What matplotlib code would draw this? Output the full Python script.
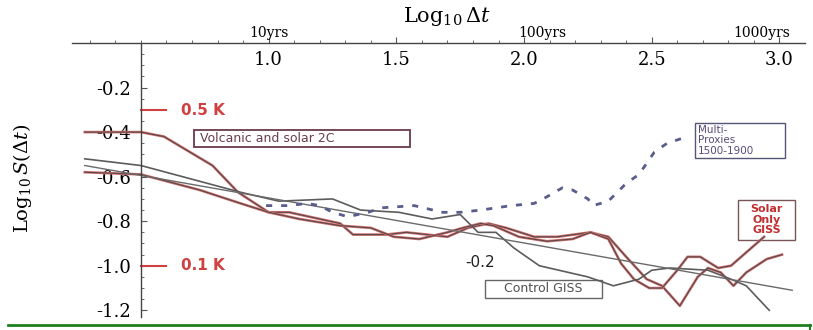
import numpy as np
import matplotlib.pyplot as plt
from matplotlib.patches import Rectangle
from matplotlib.lines import Line2D

plt.rcParams['axes.unicode_minus'] = False
plt.rcParams['mathtext.fontset'] = 'dejavuserif'

# log10(dt) and log10 S(dt)
volc_x = [0.28, 0.50, 0.59, 0.78, 0.88, 1.00, 1.08, 1.28, 1.33, 1.46, 1.54, 1.70, 1.78, 1.86, 1.93,
          2.04, 2.13, 2.26, 2.33, 2.40, 2.48, 2.54, 2.61, 2.68, 2.72, 2.77, 2.82, 2.87, 2.95, 3.01]
volc_y = [-0.40, -0.40, -0.42, -0.55, -0.67, -0.76, -0.76, -0.81, -0.86, -0.86, -0.85, -0.87, -0.83, -0.81, -0.83,
          -0.87, -0.87, -0.85, -0.87, -0.96, -1.06, -1.09, -1.18, -1.05, -1.01, -1.03, -1.09, -1.03, -0.97, -0.95]

solar_x = [0.28, 0.50, 0.73, 0.89, 1.00, 1.12, 1.28, 1.40, 1.49, 1.59, 1.70, 1.76, 1.83, 1.88, 1.98,
           2.09, 2.19, 2.26, 2.33, 2.38, 2.43, 2.49, 2.54, 2.60, 2.64, 2.69, 2.76, 2.81, 2.87, 2.94]
solar_y = [-0.58, -0.59, -0.66, -0.72, -0.76, -0.79, -0.82, -0.83, -0.87, -0.88, -0.85, -0.83, -0.81, -0.82, -0.87,
           -0.89, -0.88, -0.85, -0.88, -0.99, -1.06, -1.10, -1.10, -1.02, -0.96, -0.96, -1.01, -1.00, -0.94, -0.87]

control_x = [0.28, 0.50, 0.89, 1.04, 1.25, 1.36, 1.51, 1.64, 1.75, 1.82, 1.89, 1.96, 2.06, 2.25, 2.35,
             2.45, 2.50, 2.57, 2.72, 2.81, 2.87, 2.96]
control_y = [-0.52, -0.55, -0.67, -0.71, -0.70, -0.75, -0.76, -0.79, -0.77, -0.85, -0.85, -0.92, -1.00, -1.05, -1.09,
             -1.06, -1.02, -1.01, -1.02, -1.06, -1.09, -1.20]

slope_x = [0.28, 3.05]
slope_y = [-0.55, -1.11]

proxy_x = [0.99, 1.08, 1.15, 1.20, 1.25, 1.31, 1.39, 1.44, 1.57, 1.68, 1.75, 1.83, 1.95, 2.04, 2.09,
           2.15, 2.19, 2.25, 2.27, 2.33, 2.40, 2.45, 2.51, 2.56, 2.64]
proxy_y = [-0.73, -0.73, -0.72, -0.73, -0.76, -0.78, -0.76, -0.74, -0.73, -0.76, -0.76, -0.75, -0.73, -0.72, -0.69,
           -0.65, -0.66, -0.70, -0.73, -0.71, -0.63, -0.59, -0.49, -0.45, -0.42]

k_levels = [0.5, 0.1]
k_labels = ["0.5 K", "0.1 K"]

x_major = [1.0, 1.5, 2.0, 2.5, 3.0]
y_major = [-0.2, -0.4, -0.6, -0.8, -1.0, -1.2]
yrs_pos = [1.0, 2.07, 2.93]
yrs_labels = ["10yrs", "100yrs", "1000yrs"]

serif = "DejaVu Serif"
red = "#d04040"

fig = plt.figure(figsize=(8.13, 3.30), dpi=100)
ax = fig.add_axes([72 / 813, 1 - 317 / 330, (805 - 72) / 813, 274 / 330])
ax.set_xlim(0.23, 3.1)
ax.set_ylim(-1.23, 0.0)

for s in ["top", "right"]:
    ax.spines[s].set_visible(False)
ax.spines["bottom"].set_position(("data", 0))
ax.spines["left"].set_position(("data", 0.5))
ax.spines["left"].set_bounds(-1.23, 0)
for s in ["bottom", "left"]:
    ax.spines[s].set_color("#444444")
    ax.spines[s].set_linewidth(1.0)

ax.set_xticks(x_major)
ax.set_xticklabels([f"{v:.1f}" for v in x_major], family=serif, fontsize=13)
ax.set_xticks(np.arange(0.3, 3.05, 0.1), minor=True)
ax.set_yticks(y_major)
ax.set_yticklabels([f"-{abs(v):.1f}" for v in y_major], family=serif, fontsize=13)
ax.set_yticks(np.arange(-1.2, -0.01, 0.05), minor=True)
ax.tick_params(axis="x", which="both", direction="in", pad=6, color="#555555")
ax.tick_params(axis="y", which="both", direction="in", pad=7, color="#555555")
ax.tick_params(which="major", length=4)
ax.tick_params(which="minor", length=2)

# red-edged curves
for x, y in [(volc_x, volc_y), (solar_x, solar_y)]:
    ax.plot(x, y, color="#d07070", lw=1.9, solid_joinstyle="round")
    ax.plot(x, y, color="#5a4848", lw=0.8)
ax.plot(control_x, control_y, color="#5c5c5c", lw=1.2)
ax.plot(slope_x, slope_y, color="#6a6a6a", lw=1.0)
ax.plot(proxy_x, proxy_y, color="#5a5c8c", lw=2.0, dashes=(2.2, 3.2))

for k, lab in zip(k_levels, k_labels):
    ax.plot([0.5, 0.6], [np.log10(k)] * 2, color=red, lw=1.5)
    ax.text(0.655, np.log10(k), lab, color=red, fontsize=11, fontweight="bold",
            va="center", ha="left")

ax.add_patch(Rectangle((0.708, -0.465), 0.845, 0.076, fill=False, ec="#6a3a4a", lw=1.3))
ax.text(0.73, -0.427, "Volcanic and solar 2C", color="#6b3c4c", fontsize=9,
        va="center", ha="left")

ax.add_patch(Rectangle((2.669, -0.515), 0.353, 0.158, fill=False, ec="#555577", lw=1.0))
ax.text(2.68, -0.436, "Multi-\nProxies\n1500-1900", color="#5a4a7a", fontsize=7.5,
        va="center", ha="left", linespacing=1.05)

ax.add_patch(Rectangle((2.838, -0.883), 0.223, 0.18, fill=False, ec="#7a5555", lw=1.0))
ax.text(2.95, -0.793, "Solar\nOnly\nGISS", color="#c03030", fontsize=8, fontweight="bold",
        va="center", ha="center", linespacing=1.1)

ax.add_patch(Rectangle((1.847, -1.144), 0.458, 0.081, fill=False, ec="#666666", lw=1.0))
ax.text(2.076, -1.103, "Control GISS", color="#505050", fontsize=9, va="center", ha="center")

ax.text(1.827, -0.987, "-0.2", color="#222222", fontsize=11, va="center", ha="center")

for p, lab in zip(yrs_pos, yrs_labels):
    ax.text(p, 0.012, lab, family=serif, fontsize=10, ha="center", va="bottom")

fig.text(447 / 813, 1 - 17 / 330, r"Log$_{10}\,\Delta t$", family=serif, fontsize=15,
         ha="center", va="center")
fig.text(22 / 813, 1 - 178 / 330, r"Log$_{10}\,S(\Delta t)$", family=serif, fontsize=14,
         ha="center", va="center", rotation=90)

# green baseline of the slide
fig.add_artist(Line2D([8 / 813, 810 / 813], [1 - 325 / 330] * 2, color="#1f7f1f", lw=2))
fig.add_artist(Line2D([810 / 813, 810 / 813], [1 - 325 / 330, 1 - 329 / 330], color="#1f7f1f", lw=1.5))

fig.savefig("out.png", dpi=100)
